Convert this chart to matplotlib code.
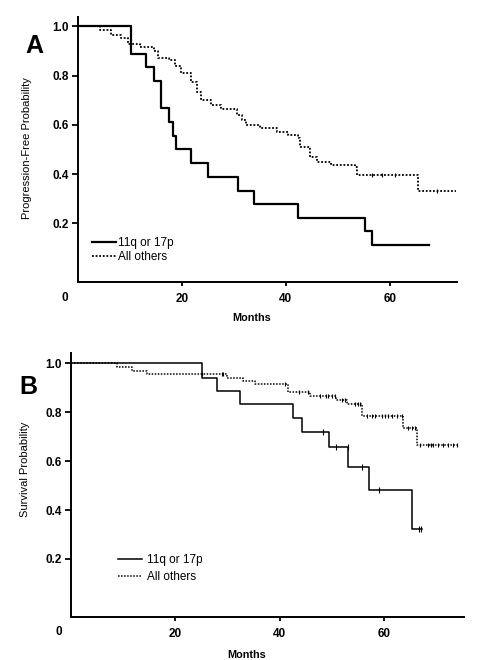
import numpy as np
import matplotlib
matplotlib.use("Agg")
import matplotlib.pyplot as plt

plt.rcParams['font.family'] = ['Liberation Sans', 'DejaVu Sans']

# ---------------- data ----------------
# Panel A: progression-free probability
a_high_t = [0, 10.2, 13.1, 14.6, 16.0, 17.5, 18.2, 18.8, 21.8, 25.1, 30.7, 33.8, 42.3, 55.2, 56.5]
a_high_s = [1.0, 0.889, 0.833, 0.778, 0.667, 0.611, 0.556, 0.500, 0.444, 0.389, 0.333, 0.278, 0.222, 0.167, 0.111]
a_high_end = 67.5

a_oth_t = [0, 4.2, 6.4, 8.3, 9.6, 12.0, 14.7, 15.4, 17.6, 18.6, 19.9, 21.8, 22.8, 23.7, 25.6, 27.6,
           30.5, 31.5, 32.4, 35.0, 38.2, 40.4, 42.3, 42.7, 44.6, 45.9, 48.6, 53.2, 53.6, 65.4]
a_oth_s = [1.0, 0.986, 0.965, 0.952, 0.929, 0.918, 0.898, 0.871, 0.864, 0.837, 0.810, 0.776, 0.735, 0.700, 0.680, 0.663,
           0.640, 0.620, 0.600, 0.586, 0.572, 0.559, 0.545, 0.511, 0.471, 0.450, 0.437, 0.430, 0.398, 0.333]
a_oth_end = 72.8
a_oth_cens = [56.5, 58.5, 61.0, 69.0]

# Panel B: overall survival
b_high_t = [0, 25.1, 27.9, 32.4, 42.5, 44.3, 49.4, 53.2, 57.2, 65.4]
b_high_s = [1.0, 0.942, 0.888, 0.832, 0.777, 0.720, 0.659, 0.577, 0.481, 0.321]
b_high_end = 67.3
b_high_cens = [48.4, 50.8, 53.1, 55.9, 59.0, 66.7, 67.2]

b_oth_t = [0, 8.9, 11.6, 14.5, 29.9, 33.0, 35.3, 41.7, 45.8, 50.9, 53.0, 55.9, 63.6, 66.3]
b_oth_s = [1.0, 0.986, 0.969, 0.956, 0.942, 0.927, 0.914, 0.883, 0.866, 0.849, 0.832, 0.784, 0.734, 0.665]
b_oth_end = 74.3
b_oth_cens = [25.1, 28.9, 29.2, 41.0, 43.8, 45.5, 47.7, 48.9, 49.3, 50.0, 50.6, 51.9, 52.5, 54.5, 55.1,
              55.4, 56.7, 57.7, 58.3, 59.6, 60.2, 60.8, 61.5, 62.5, 63.4, 64.7, 65.3, 66.0, 66.9, 68.5,
              69.0, 69.5, 70.4, 71.3, 72.3, 73.3, 74.1]

labels = ["11q or 17p", "All others"]
yticks = [0.2, 0.4, 0.6, 0.8, 1.0]
xticks = [20, 40, 60]


def km(ax, t, s, end, cens, ls, lw, label, cens_ms=4):
    tt = list(t) + [end]
    ss = list(s) + [s[-1]]
    ax.step(tt, ss, where='post', color='black', linestyle=ls, linewidth=lw, label=label)
    if cens:
        idx = np.searchsorted(np.array(t), np.array(cens), side='right') - 1
        ax.plot(cens, np.array(s)[idx], linestyle='none', marker='|', markersize=cens_ms,
                markeredgewidth=0.8, color='black')


def style(ax, xlim, ylim):
    ax.set_xlim(*xlim)
    ax.set_ylim(*ylim)
    for sp in ['top', 'right']:
        ax.spines[sp].set_visible(False)
    for sp in ['left', 'bottom']:
        ax.spines[sp].set_linewidth(1.4)
    ax.set_xticks(xticks)
    ax.set_yticks(yticks)
    ax.set_yticklabels([f"{v:.1f}" for v in yticks])
    ax.tick_params(axis='y', direction='out', length=4.5, width=1.3, pad=2, labelsize=8.5)
    ax.tick_params(axis='x', direction='out', length=3, width=1.3, pad=5, labelsize=8.5)
    for lab in ax.get_xticklabels() + ax.get_yticklabels():
        lab.set_fontweight('bold')


fig = plt.figure(figsize=(4.8, 6.6), dpi=100)

# ---------- Panel A ----------
axA = fig.add_axes([0.1625, 0.573, 0.952 - 0.1625, 0.975 - 0.573])
km(axA, a_high_t, a_high_s, a_high_end, None, '-', 1.6, labels[0])
km(axA, a_oth_t, a_oth_s, a_oth_end, a_oth_cens, (0, (1, 1)), 1.3, labels[1], cens_ms=2.5)
style(axA, (0, 72.9), (-0.0374, 1.040))
axA.set_xlabel("Months", fontsize=7.8, fontweight='bold')
axA.xaxis.set_label_coords(0.459, -0.118)
axA.set_ylabel("Progression-Free Probability", fontsize=8)
axA.yaxis.set_label_coords(-0.121, 0.505)
axA.text(-0.034, -0.062, "0", transform=axA.transAxes, ha='center', va='center',
         fontsize=8.5, fontweight='bold')
axA.text(-0.115, 0.889, "A", transform=axA.transAxes, ha='center', va='center',
         fontsize=18, fontweight='bold')
axA.legend(loc='center left', bbox_to_anchor=(0.037, 0.12), frameon=False, fontsize=8.5,
           handlelength=2.0, handletextpad=0.2, labelspacing=0.15, borderpad=0, borderaxespad=0)

# ---------- Panel B ----------
axB = fig.add_axes([0.148, 0.0647, 0.967 - 0.148, 0.465 - 0.0647])
km(axB, b_high_t, b_high_s, b_high_end, b_high_cens, '-', 1.1, labels[0])
km(axB, b_oth_t, b_oth_s, b_oth_end, b_oth_cens, (0, (1, 1)), 1.1, labels[1], cens_ms=3.5)
style(axB, (0, 75.4), (-0.039, 1.042))
axB.set_xlabel("Months", fontsize=7.8, fontweight='bold')
axB.xaxis.set_label_coords(0.447, -0.124)
axB.set_ylabel("Survival Probability", fontsize=8)
axB.yaxis.set_label_coords(-0.104, 0.561)
axB.text(-0.032, -0.054, "0", transform=axB.transAxes, ha='center', va='center',
         fontsize=8.5, fontweight='bold')
axB.text(-0.108, 0.873, "B", transform=axB.transAxes, ha='center', va='center',
         fontsize=18, fontweight='bold')
axB.legend(loc='center left', bbox_to_anchor=(0.12, 0.185), frameon=False, fontsize=8.5,
           handlelength=2.0, handletextpad=0.4, labelspacing=0.45, borderpad=0, borderaxespad=0)

fig.savefig("out.png", dpi=100)
